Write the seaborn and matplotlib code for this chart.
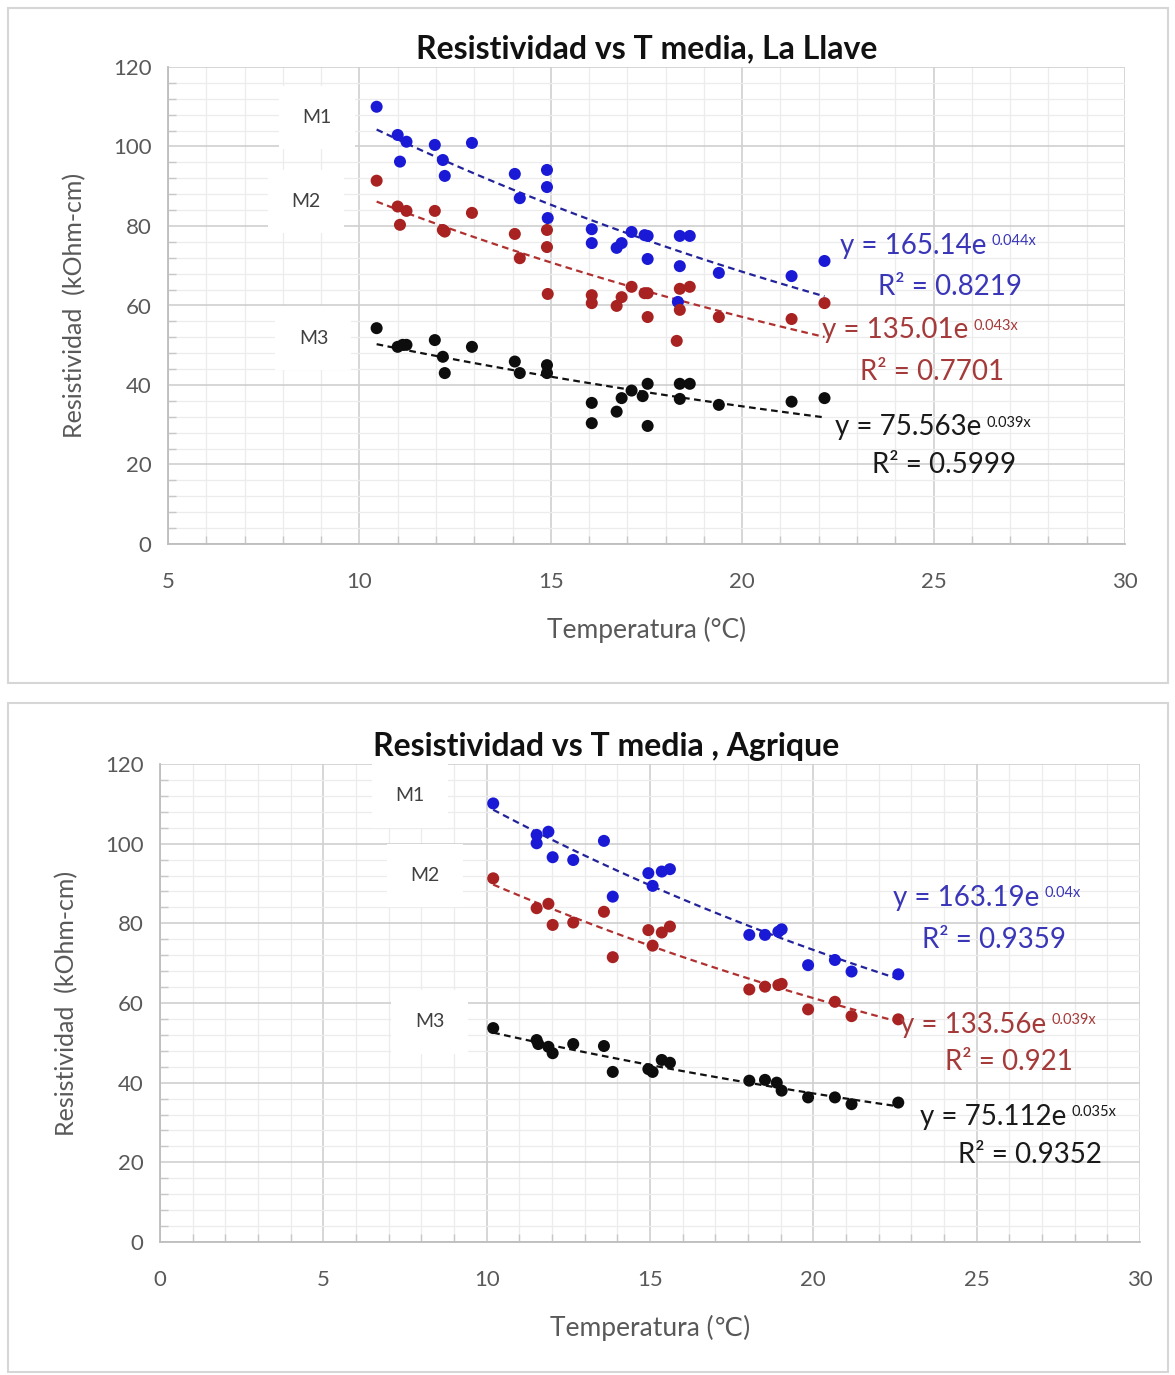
"""Resistividad vs temperatura media: La Llave y Agrique (estilo Excel)."""

import matplotlib

matplotlib.use("Agg")
import matplotlib.pyplot as plt
import numpy as np
import pandas as pd
import seaborn as sns
from matplotlib.patches import Rectangle
from matplotlib.ticker import MultipleLocator

# ---- La Llave -------------------------------------------------------------
llave_m1_t = [10.45, 11.0, 11.23, 11.06, 11.97, 12.18, 12.23, 12.94, 14.06, 14.19,
              14.9, 14.9, 14.92, 16.07, 16.07, 16.72, 16.85, 17.11, 17.45, 17.53,
              17.53, 18.37, 18.63, 18.37, 18.32, 19.39, 21.29, 22.15]
llave_m1_r = [110.0, 102.9, 101.2, 96.2, 100.4, 96.6, 92.6, 100.9, 93.1, 87.0,
              94.1, 89.8, 82.0, 79.2, 75.7, 74.5, 75.7, 78.5, 77.7, 77.5,
              71.7, 77.5, 77.5, 69.9, 60.9, 68.2, 67.4, 71.2]
llave_m2_t = [10.45, 11.0, 11.23, 11.06, 11.97, 12.18, 12.23, 12.94, 14.06, 14.19,
              14.9, 14.9, 14.92, 16.07, 16.07, 16.72, 16.85, 17.11, 17.45, 17.53,
              17.53, 18.37, 18.63, 18.37, 18.29, 19.39, 21.29, 22.15]
llave_m2_r = [91.4, 84.9, 83.8, 80.3, 83.8, 79.0, 78.6, 83.3, 78.0, 71.9,
              79.0, 74.7, 62.9, 62.6, 60.6, 59.9, 62.1, 64.7, 63.1, 63.1,
              57.1, 64.2, 64.7, 58.9, 51.1, 57.1, 56.6, 60.6]
llave_m3_t = [10.45, 11.0, 11.13, 11.23, 11.97, 12.18, 12.23, 12.94, 14.06, 14.19,
              14.9, 14.9, 16.07, 16.07, 16.72, 16.85, 17.11, 17.40, 17.53, 17.53,
              18.37, 18.63, 18.37, 19.39, 21.29, 22.15]
llave_m3_r = [54.3, 49.6, 50.1, 50.1, 51.3, 47.1, 43.0, 49.6, 45.9, 43.0,
              45.0, 43.0, 35.5, 30.4, 33.3, 36.7, 38.6, 37.2, 40.3, 29.7,
              40.3, 40.3, 36.5, 35.0, 35.8, 36.7]

# ---- Agrique --------------------------------------------------------------
agri_t = [10.20, 11.53, 11.53, 11.89, 12.02, 12.65, 13.59, 13.86, 14.95, 15.08,
          15.36, 15.61, 18.04, 18.52, 18.93, 19.03, 19.84, 20.66, 21.17, 22.60]
agri_m1_r = [110.1, 102.2, 100.1, 103.0, 96.6, 95.9, 100.7, 86.7, 92.6, 89.4,
             93.0, 93.6, 77.1, 77.1, 77.9, 78.5, 69.5, 70.8, 67.9, 67.2]
agri_m2_t = [10.20, 11.53, 11.89, 12.02, 12.65, 13.59, 13.86, 14.95, 15.08, 15.36,
             15.61, 18.04, 18.52, 18.93, 19.03, 19.84, 20.66, 21.17, 22.60]
agri_m2_r = [91.3, 83.8, 84.9, 79.6, 80.2, 82.9, 71.5, 78.3, 74.4, 77.7,
             79.2, 63.4, 64.1, 64.5, 64.8, 58.4, 60.3, 56.7, 55.9]
agri_m3_t = [10.20, 11.53, 11.58, 11.89, 12.02, 12.65, 13.59, 13.86, 14.95, 15.08,
             15.36, 15.61, 18.04, 18.52, 18.88, 19.03, 19.84, 20.66, 21.17, 22.60]
agri_m3_r = [53.7, 50.7, 49.7, 49.0, 47.4, 49.7, 49.2, 42.7, 43.4, 42.7,
             45.7, 45.0, 40.5, 40.7, 40.0, 38.0, 36.3, 36.3, 34.6, 35.0]

# Ajuste exponencial reportado (y = a * e^(-b x)) y R^2
series = ["M1", "M2", "M3"]
llave_a = ["165.14", "135.01", "75.563"]
llave_b = ["0.044", "0.043", "0.039"]
llave_r2 = ["0.8219", "0.7701", "0.5999"]
agri_a = ["163.19", "133.56", "75.112"]
agri_b = ["0.04", "0.039", "0.035"]
agri_r2 = ["0.9359", "0.921", "0.9352"]

point_colors = {"M1": "#1a1ad6", "M2": "#a82222", "M3": "#0d0d0d"}
trend_colors = {"M1": "#22229a", "M2": "#b03030", "M3": "#111111"}
text_colors = {"M1": "#3a36b8", "M2": "#a53a3a", "M3": "#1a1a1a"}

W, H = 1175, 1375
sns.set_theme(style="white")
plt.rcParams["font.family"] = ["Lato", "DejaVu Sans"]

fig = plt.figure(figsize=(W / 100, H / 100), dpi=100)
fig.patch.set_facecolor("white")


def fbox(x0, y0, x1, y1):
    """Caja en coordenadas de figura desde pixeles (origen arriba-izquierda)."""
    return [x0 / W, 1 - y1 / H, (x1 - x0) / W, (y1 - y0) / H]


# Marcos de cada grafico
for y0, y1 in [(8, 683), (703, 1372)]:
    fig.patches.append(Rectangle((8 / W, 1 - y1 / H), 1160 / W, (y1 - y0) / H,
                                 transform=fig.transFigure, fill=False,
                                 edgecolor="#d6d6d6", linewidth=1.5))


def draw_panel(ax, frames, a_txt, b_txt, r2s, xmin, title, title_x, xlabel,
               mlabels, eqs):
    data = pd.concat(frames, ignore_index=True)
    sns.scatterplot(data=data, x="T", y="R", hue="serie", palette=point_colors,
                    s=75, edgecolor="none", legend=False, ax=ax, zorder=4)
    for name, a, b in zip(series, a_txt, b_txt):
        sub = data[data["serie"] == name]
        xs = np.linspace(sub["T"].min(), sub["T"].max(), 50)
        trend = pd.DataFrame({"T": xs, "R": float(a) * np.exp(-float(b) * xs)})
        sns.lineplot(data=trend, x="T", y="R", color=trend_colors[name], lw=1.6,
                     linestyle=(0, (3, 2)), ax=ax, zorder=3)

    ax.set_xlim(xmin, 30)
    ax.set_ylim(0, 120)
    ax.xaxis.set_major_locator(MultipleLocator(5))
    ax.xaxis.set_minor_locator(MultipleLocator(1))
    ax.yaxis.set_major_locator(MultipleLocator(20))
    ax.yaxis.set_minor_locator(MultipleLocator(4))
    ax.grid(which="major", color="#cfcfcf", lw=1.2)
    ax.grid(which="minor", color="#ececec", lw=0.9)
    ax.set_axisbelow(True)
    for side in ["top", "right"]:
        ax.spines[side].set_visible(False)
    for side in ["left", "bottom"]:
        ax.spines[side].set_color("#bdbdbd")
        ax.spines[side].set_linewidth(1.3)
    ax.tick_params(which="major", length=7, width=1.2, color="#bdbdbd",
                   labelsize=16, labelcolor="#595959", direction="out")
    ax.tick_params(axis="x", which="major", pad=13)
    ax.tick_params(axis="y", which="major", pad=5)
    ax.tick_params(which="minor", length=6, width=1.0, color="#c8c8c8",
                   direction="in", left=True, bottom=True)
    ax.set_title(title, fontsize=23, fontweight="bold", color="#111111", pad=6,
                 x=title_x)
    ax.set_xlabel(xlabel, fontsize=19, color="#595959", labelpad=18)
    ax.set_ylabel("Resistividad  (kOhm-cm)", fontsize=18, color="#595959",
                  labelpad=19)

    for name, (tx, ty) in zip(series, mlabels):
        ax.text(tx, ty, name, fontsize=14, color="#404040", ha="center",
                va="center", zorder=5,
                bbox=dict(boxstyle="square,pad=1.2", facecolor="white",
                          edgecolor="none"))

    for name, a, b, r2, (ex, ey, rx, ry) in zip(series, a_txt, b_txt, r2s, eqs):
        col = text_colors[name]
        main = ax.text(ex, ey, f"y = {a}e", fontsize=20, color=col,
                       ha="left", va="center", zorder=5)
        ax.annotate(f"{b}x", xy=(1, 1), xycoords=main, xytext=(4, -1),
                    textcoords="offset points", fontsize=10.5, color=col,
                    ha="left", va="top", zorder=5)
        ax.text(rx, ry, f"R² = {r2}", fontsize=20, color=col,
                ha="left", va="center", zorder=5)


def frame(t, r, name):
    return pd.DataFrame({"T": t, "R": r, "serie": name})


ax1 = fig.add_axes(fbox(168, 67, 1125, 544))
draw_panel(
    ax1,
    [frame(llave_m1_t, llave_m1_r, "M1"), frame(llave_m2_t, llave_m2_r, "M2"),
     frame(llave_m3_t, llave_m3_r, "M3")],
    llave_a, llave_b, llave_r2, 5,
    "Resistividad vs T media, La Llave", 0.5, "Temperatura (°C)",
    [(8.9, 107.3), (8.6, 86.2), (8.8, 51.8)],
    [(22.55, 75.0, 23.54, 64.7), (22.08, 53.8, 23.07, 43.3), (22.42, 29.4, 23.4, 19.9)],
)

ax2 = fig.add_axes(fbox(160, 764, 1140, 1242))
draw_panel(
    ax2,
    [frame(agri_t, agri_m1_r, "M1"), frame(agri_m2_t, agri_m2_r, "M2"),
     frame(agri_m3_t, agri_m3_r, "M3")],
    agri_a, agri_b, agri_r2, 0,
    "Resistividad vs T media , Agrique", 0.455, "Temperatura (℃)",
    [(7.65, 112.0), (8.1, 92.0), (8.25, 55.3)],
    [(22.44, 86.4, 23.32, 75.8), (22.65, 54.5, 24.03, 45.2), (23.26, 31.4, 24.43, 21.8)],
)

fig.savefig("out.png", dpi=100, facecolor="white")
